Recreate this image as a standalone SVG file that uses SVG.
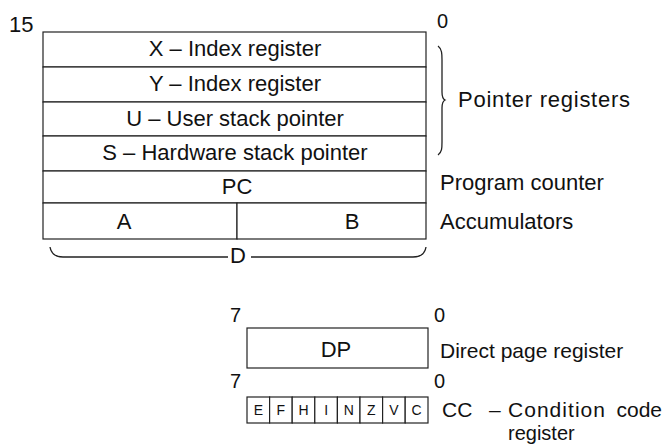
<svg xmlns="http://www.w3.org/2000/svg" width="663" height="444" viewBox="0 0 663 444">
  <style>
    .box { fill: #fff; stroke: #222; stroke-width: 1.2; }
    .ln { fill: none; stroke: #222; stroke-width: 1.3; }
    .t { font-family: "Liberation Sans", Arial, sans-serif; font-size: 22px; fill: #111; }
    .s { font-family: "Liberation Sans", Arial, sans-serif; font-size: 20px; fill: #111; }
    .m { font-family: "Liberation Sans", Arial, sans-serif; font-size: 21px; fill: #111; }
    .c { text-anchor: middle; }
    .e { text-anchor: end; }
    .f { font-family: "Liberation Sans", Arial, sans-serif; font-size: 14px; fill: #111; text-anchor: middle; }
  </style>
  <rect width="663" height="444" fill="#fff"/>

  <!-- 16-bit register file -->
  <g id="bits16">
    <text class="t" x="9" y="32">15</text>
    <text class="s" x="437" y="28">0</text>
  </g>
  <g id="regX">
    <rect class="box" x="43" y="32" width="383" height="35"/>
    <text class="t c" x="235" y="56">X – Index register</text>
  </g>
  <g id="regY">
    <rect class="box" x="43" y="67" width="383" height="35"/>
    <text class="t c" x="235" y="91">Y – Index register</text>
  </g>
  <g id="regU">
    <rect class="box" x="43" y="102" width="383" height="34"/>
    <text class="t c" x="235" y="126">U – User stack pointer</text>
  </g>
  <g id="regS">
    <rect class="box" x="43" y="136" width="383" height="35"/>
    <text class="t c" x="235" y="160">S – Hardware stack pointer</text>
  </g>
  <g id="regPC">
    <rect class="box" x="43" y="171" width="383" height="32"/>
    <text class="t c" x="237" y="194">PC</text>
  </g>
  <g id="regA">
    <rect class="box" x="43" y="203" width="194" height="36"/>
    <text class="t c" x="124" y="229">A</text>
  </g>
  <g id="regB">
    <rect class="box" x="237" y="203" width="189" height="36"/>
    <text class="t c" x="352" y="229">B</text>
  </g>

  <!-- braces -->
  <g id="connectors">
    <path class="ln" d="M438,46 C442,49 442,54 442,60 L442,92 C442,96 443,99 445,100 C443,101 442,104 442,108 L442,142 C442,148 442,152 438,155"/>
    <path class="ln" d="M50,247 C51,253 54,257 63,257 L228,257 M251,257 L413,257 C421,257 425,254 426,247"/>
  </g>
  <g id="labels16">
    <text class="t" x="458" y="107" textLength="172">Pointer registers</text>
    <text class="t" x="440" y="190">Program counter</text>
    <text class="t" x="440" y="229">Accumulators</text>
    <text class="t c" x="238" y="263">D</text>
  </g>

  <!-- 8-bit registers -->
  <g id="regDP">
    <text class="s" x="230" y="322">7</text>
    <text class="s" x="434" y="322">0</text>
    <rect class="box" x="247" y="328" width="181" height="40"/>
    <text class="t c" x="336" y="357">DP</text>
    <text class="m" x="440" y="358">Direct page register</text>
  </g>
  <g id="regCC">
    <text class="s" x="230" y="388">7</text>
    <text class="s" x="434" y="388">0</text>
    <rect class="box" x="247" y="397" width="22.6" height="26"/>
    <rect class="box" x="269.6" y="397" width="22.6" height="26"/>
    <rect class="box" x="292.2" y="397" width="22.6" height="26"/>
    <rect class="box" x="314.8" y="397" width="22.6" height="26"/>
    <rect class="box" x="337.4" y="397" width="22.6" height="26"/>
    <rect class="box" x="360" y="397" width="22.6" height="26"/>
    <rect class="box" x="382.6" y="397" width="22.6" height="26"/>
    <rect class="box" x="405.2" y="397" width="22.8" height="26"/>
    <text class="f" x="258.3" y="415">E</text>
    <text class="f" x="280.9" y="415">F</text>
    <text class="f" x="303.5" y="415">H</text>
    <text class="f" x="326.1" y="415">I</text>
    <text class="f" x="348.7" y="415">N</text>
    <text class="f" x="371.3" y="415">Z</text>
    <text class="f" x="393.9" y="415">V</text>
    <text class="f" x="416.6" y="415">C</text>
    <text class="m" x="442" y="417">CC</text>
    <text class="m" x="489" y="417">–</text>
    <text class="m" x="508" y="417" textLength="97">Condition</text>
    <text class="m e" x="662" y="417">code</text>
    <text class="s" x="508" y="440">register</text>
  </g>
</svg>
